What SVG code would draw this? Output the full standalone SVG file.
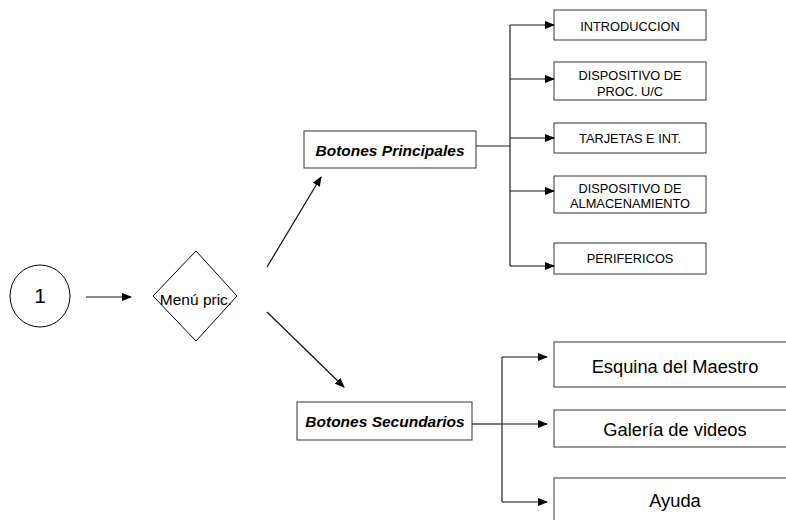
<svg xmlns="http://www.w3.org/2000/svg" width="786" height="520" viewBox="0 0 786 520">
<defs>
<marker id="ah" markerWidth="10" markerHeight="8" refX="9" refY="4" orient="auto" markerUnits="userSpaceOnUse">
<path d="M0,0 L10,4 L0,8 Z" fill="#000"/>
</marker>
<style>
.box{fill:#fff;stroke:#333;stroke-width:1}
.ln{fill:none;stroke:#222;stroke-width:1.2}
.arr{fill:none;stroke:#111;stroke-width:1.2;marker-end:url(#ah)}
.t{font-family:"Liberation Sans",Arial,sans-serif;fill:#000;text-anchor:middle}
.s{font-size:12.8px}
.m{font-size:18.3px}
.b{font-size:15.5px;font-weight:bold;font-style:italic}
</style>
</defs>
<rect width="786" height="520" fill="#fff"/>
<g id="start">
<ellipse cx="40" cy="296" rx="30" ry="31" fill="#fff" stroke="#000" stroke-width="1"/>
<text class="t" x="40" y="303" font-size="21">1</text>
</g>
<g id="menu">
<polygon points="196,251 237,296 196,341 153,296" fill="#fff" stroke="#000" stroke-width="1"/>
<text class="t" x="196" y="305" font-size="15.5">Menú pric.</text>
</g>
<g id="principales">
<rect class="box" x="304" y="131" width="172" height="37"/>
<text class="t b" x="390" y="156">Botones Principales</text>
</g>
<g id="secundarios">
<rect class="box" x="297" y="402" width="175" height="38"/>
<text class="t b" x="385" y="427">Botones Secundarios</text>
</g>
<g id="introduccion">
<rect class="box" x="554" y="10" width="152" height="30"/>
<text class="t s" x="630" y="31">INTRODUCCION</text>
</g>
<g id="proc">
<rect class="box" x="554" y="62" width="152" height="38"/>
<text class="t s" x="630" y="80">DISPOSITIVO DE</text>
<text class="t s" x="630" y="96">PROC. U/C</text>
</g>
<g id="tarjetas">
<rect class="box" x="554" y="123" width="152" height="30"/>
<text class="t s" x="630" y="143">TARJETAS E INT.</text>
</g>
<g id="almacenamiento">
<rect class="box" x="554" y="176" width="152" height="37"/>
<text class="t s" x="630" y="193">DISPOSITIVO DE</text>
<text class="t s" x="630" y="208">ALMACENAMIENTO</text>
</g>
<g id="perifericos">
<rect class="box" x="554" y="243" width="152" height="31"/>
<text class="t s" x="630" y="263">PERIFERICOS</text>
</g>
<g id="esquina">
<rect class="box" x="554" y="342" width="240" height="45"/>
<text class="t m" x="675" y="373">Esquina del Maestro</text>
</g>
<g id="galeria">
<rect class="box" x="554" y="410" width="240" height="37"/>
<text class="t m" x="675" y="436">Galería de videos</text>
</g>
<g id="ayuda">
<rect class="box" x="554" y="478" width="240" height="50"/>
<text class="t m" x="675" y="507">Ayuda</text>
</g>
<g id="connectors">
<line class="arr" x1="86" y1="297" x2="131" y2="297"/>
<line class="arr" x1="267" y1="267" x2="321" y2="177"/>
<line class="arr" x1="267" y1="312" x2="344" y2="387"/>
<line class="ln" x1="476" y1="146" x2="510" y2="146"/>
<line class="ln" x1="510" y1="25" x2="510" y2="266"/>
<line class="arr" x1="510" y1="25" x2="554" y2="25"/>
<line class="arr" x1="510" y1="79" x2="554" y2="79"/>
<line class="arr" x1="510" y1="138" x2="554" y2="138"/>
<line class="arr" x1="510" y1="191" x2="554" y2="191"/>
<line class="arr" x1="510" y1="266" x2="554" y2="266"/>
<line class="ln" x1="472" y1="424" x2="502" y2="424"/>
<line class="ln" x1="502" y1="357" x2="502" y2="502"/>
<line class="arr" x1="502" y1="357" x2="547" y2="357"/>
<line class="arr" x1="502" y1="424" x2="547" y2="424"/>
<line class="arr" x1="502" y1="502" x2="547" y2="502"/>
</g>
</svg>
